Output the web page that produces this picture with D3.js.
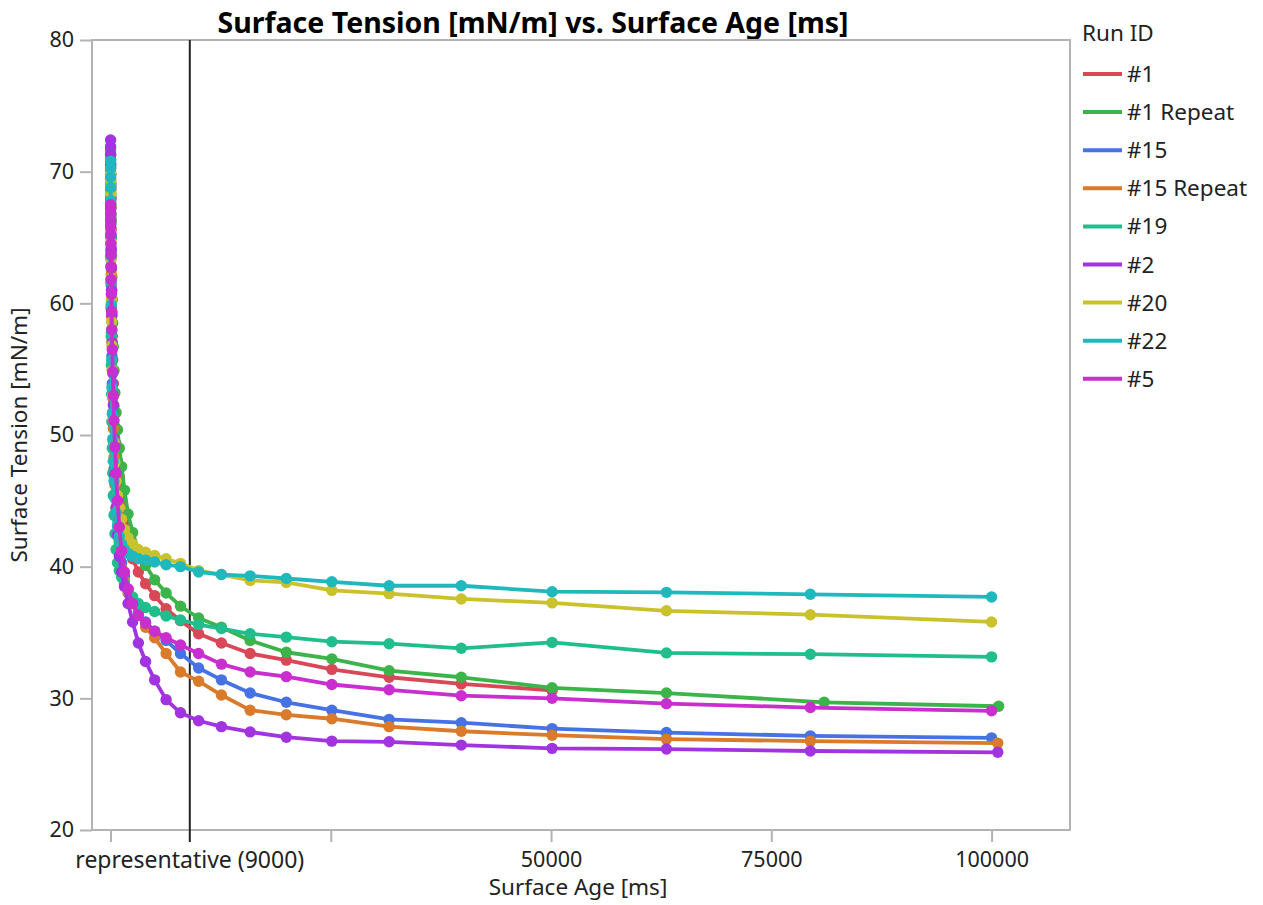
<!DOCTYPE html>
<html>
<head>
<meta charset="utf-8">
<script src="https://cdn.jsdelivr.net/npm/d3@7"></script>
<style>
  html, body { margin: 0; padding: 0; background: #fff; }
  svg { display: block; font-family: "Noto Sans", "Open Sans", sans-serif; }
</style>
</head>
<body>
<svg id="chart" width="1263" height="905"></svg>
<script>
// Surface age of each bubble-pressure reading [ms], 10 steps per decade
const ages = [10, 12.6, 15.8, 20, 25.1, 31.6, 39.8, 50.1, 63.1, 79.4,
  100, 126, 158, 200, 251, 316, 398, 501, 631, 794,
  1000, 1259, 1585, 1995, 2512, 3162, 3981, 5012, 6310, 7943,
  10000, 12589, 15849, 19953, 25119, 31623, 39811, 50119, 63096, 79433, 100000];
// Runs whose last readings were taken at slightly longer ages
const agesRepeat1 = ages.slice(0, 39).concat([81000, 100800]);
const agesLongEnd = ages.slice(0, 40).concat([100700]);

const runIds = ["#1", "#1 Repeat", "#15", "#15 Repeat", "#19", "#2", "#20", "#22", "#5"];

// Surface tension readings [mN/m]
const run1 = [70.5, 70.2, 69.8, 69.3, 68.7, 68.0, 67.2, 66.3, 65.2, 64.0,
  62.6, 61.0, 59.3, 57.5, 55.7, 53.9, 52.2, 50.6, 49.3, 48.0,
  46.8, 45.0, 43.4, 42.0, 40.6, 39.6, 38.7, 37.8, 36.8, 35.9,
  34.9, 34.2, 33.4, 32.9, 32.2, 31.6, 31.1, 30.6];
const run1Repeat = [71.8, 71.6, 71.3, 70.9, 70.4, 69.8, 69.1, 68.3, 67.3, 66.2,
  65.0, 63.6, 62.0, 60.3, 58.5, 56.7, 54.9, 53.2, 51.7, 50.4,
  49.0, 47.6, 45.8, 44.0, 42.6, 41.2, 40.1, 39.0, 38.0, 37.0,
  36.1, 35.4, 34.4, 33.5, 33.0, 32.1, 31.6, 30.8, 30.4, 29.7, 29.4];
const run15 = [69.0, 68.6, 68.1, 67.5, 66.8, 66.0, 65.1, 64.0, 62.8, 61.4,
  59.8, 58.0, 56.0, 53.9, 51.7, 49.5, 47.4, 45.5, 43.8, 42.6,
  41.5, 40.3, 39.3, 38.3, 37.3, 36.5, 35.8, 35.1, 34.4, 33.4,
  32.3, 31.4, 30.4, 29.7, 29.1, 28.4, 28.15, 27.7, 27.4, 27.15, 27.0];
const run15Repeat = [69.5, 69.1, 68.6, 68.0, 67.3, 66.5, 65.6, 64.6, 63.5, 62.2,
  60.7, 59.0, 57.1, 55.0, 52.8, 50.5, 48.3, 46.2, 44.3, 42.5,
  41.0, 39.9, 38.9, 38.0, 37.2, 36.3, 35.4, 34.6, 33.4, 32.0,
  31.3, 30.25, 29.1, 28.75, 28.45, 27.85, 27.5, 27.2, 26.9, 26.75, 26.6];
const run19 = [70.0, 69.4, 68.6, 67.6, 66.4, 65.0, 63.4, 61.6, 59.6, 57.5,
  55.3, 53.1, 51.0, 49.0, 47.1, 45.4, 43.9, 42.5, 41.3, 40.3,
  39.7, 39.2, 38.7, 38.2, 37.7, 37.2, 36.9, 36.6, 36.25, 35.95,
  35.6, 35.3, 34.9, 34.65, 34.3, 34.15, 33.8, 34.25, 33.45, 33.35, 33.15];
const run2 = [72.4, 71.9, 71.3, 70.6, 69.8, 68.9, 67.9, 66.8, 65.6, 64.2,
  62.7, 61.0, 59.1, 57.0, 54.7, 52.3, 49.7, 47.0, 44.5, 42.4,
  40.8, 39.6, 38.5, 37.2, 35.8, 34.2, 32.8, 31.4, 29.9, 28.9,
  28.3, 27.85, 27.45, 27.05, 26.75, 26.7, 26.45, 26.2, 26.15, 26.0, 25.9];
const run20 = [69.8, 69.4, 68.9, 68.3, 67.6, 66.7, 65.7, 64.6, 63.3, 61.9,
  60.3, 58.6, 56.8, 54.9, 53.0, 51.2, 49.5, 47.9, 46.5, 45.4,
  44.5, 43.6, 42.8, 42.2, 41.7, 41.3, 41.1, 40.85, 40.6, 40.25,
  39.7, 39.4, 38.95, 38.8, 38.2, 37.95, 37.55, 37.25, 36.65, 36.35, 35.8];
const run22 = [70.8, 70.3, 69.6, 68.8, 67.8, 66.6, 65.2, 63.6, 61.8, 59.9,
  57.8, 55.7, 53.6, 51.6, 49.7, 48.0, 46.5, 45.2, 44.1, 43.1,
  42.3, 41.7, 41.3, 41.0, 40.8, 40.6, 40.5, 40.35, 40.15, 40.0,
  39.6, 39.4, 39.3, 39.1, 38.85, 38.55, 38.55, 38.1, 38.05, 37.9, 37.7];
const run5 = [67.5, 67.2, 66.8, 66.3, 65.8, 65.2, 64.5, 63.7, 62.8, 61.8,
  60.7, 59.4, 58.0, 56.5, 54.8, 53.0, 51.1, 49.1, 47.1, 45.0,
  43.0, 41.2, 39.6, 38.3, 37.2, 36.3, 35.7, 35.1, 34.6, 34.05,
  33.4, 32.6, 32.0, 31.65, 31.05, 30.65, 30.2, 30.0, 29.6, 29.3, 29.05];

const runColors = ["#da4757", "#3cb44a", "#4672e3", "#d97b2a", "#22bd8c",
  "#a234e0", "#c9c22c", "#1fb8bd", "#c92ecf"];

const yTicks = [20, 30, 40, 50, 60, 70, 80];
const xTicks = [0, 25000, 50000, 75000, 100000];
const xTickLabels = ["", "", "50000", "75000", "100000"];
const refAge = 9000;
const refLabel = "representative (9000)";

const runs = [
  { id: runIds[0], ages: ages, values: run1 },
  { id: runIds[1], ages: agesRepeat1, values: run1Repeat },
  { id: runIds[2], ages: ages, values: run15 },
  { id: runIds[3], ages: agesLongEnd, values: run15Repeat },
  { id: runIds[4], ages: ages, values: run19 },
  { id: runIds[5], ages: agesLongEnd, values: run2 },
  { id: runIds[6], ages: ages, values: run20 },
  { id: runIds[7], ages: ages, values: run22 },
  { id: runIds[8], ages: ages, values: run5 }
].map((r, i) => ({
  id: r.id,
  color: runColors[i],
  points: r.values.map((v, j) => ({ age: r.ages[j], tension: v }))
}));

const svg = d3.select("#chart");
const plot = { left: 92, right: 1070, top: 40, bottom: 830 };

const x = d3.scaleLinear().domain([-2100, 108900]).range([plot.left, plot.right]);
const y = d3.scaleLinear().domain([20, 80]).range([plot.bottom, plot.top]);

const axisColor = "#b3b3b3";
const textColor = "#222";

// Title
svg.append("text")
  .attr("x", 533).attr("y", 33)
  .attr("text-anchor", "middle")
  .attr("font-size", 28.5).attr("font-weight", "bold")
  .attr("fill", "#000")
  .text("Surface Tension [mN/m] vs. Surface Age [ms]");

// Y axis
const yAxis = svg.append("g")
  .attr("transform", `translate(${plot.left},0)`)
  .call(d3.axisLeft(y).tickValues(yTicks).tickSize(12).tickPadding(6));
yAxis.selectAll("text").attr("font-size", 21.5).attr("fill", textColor)
  .attr("font-family", "Noto Sans, sans-serif");

// X axis
const xAxis = svg.append("g")
  .attr("transform", `translate(0,${plot.bottom})`)
  .call(d3.axisBottom(x).tickValues(xTicks).tickSize(12).tickPadding(10)
    .tickFormat((d, i) => xTickLabels[i]));
xAxis.selectAll("text").attr("font-size", 21.5).attr("fill", textColor)
  .attr("font-family", "Noto Sans, sans-serif");

[yAxis, xAxis].forEach(g => {
  g.selectAll("line").attr("stroke", axisColor).attr("stroke-width", 2);
  g.select(".domain").remove();
});

// Plot frame
svg.append("rect")
  .attr("x", plot.left).attr("y", plot.top)
  .attr("width", plot.right - plot.left).attr("height", plot.bottom - plot.top)
  .attr("fill", "none").attr("stroke", axisColor).attr("stroke-width", 2);

// Reference age line and its label
svg.append("line")
  .attr("x1", x(refAge)).attr("x2", x(refAge))
  .attr("y1", plot.top).attr("y2", plot.bottom + 12)
  .attr("stroke", "#222").attr("stroke-width", 2);
svg.append("text")
  .attr("x", x(refAge)).attr("y", plot.bottom + 38)
  .attr("text-anchor", "middle").attr("font-size", 23).attr("fill", textColor)
  .text(refLabel);

// Axis titles
svg.append("text")
  .attr("x", 578).attr("y", 895)
  .attr("text-anchor", "middle").attr("font-size", 22.5).attr("fill", textColor)
  .text("Surface Age [ms]");
svg.append("text")
  .attr("transform", `translate(27,${(plot.top + plot.bottom) / 2}) rotate(-90)`)
  .attr("text-anchor", "middle").attr("font-size", 22.5).attr("fill", textColor)
  .text("Surface Tension [mN/m]");

// Runs: line with a dot at every reading
const line = d3.line().x(d => x(d.age)).y(d => y(d.tension));
const runG = svg.append("g");
runs.forEach(r => {
  const g = runG.append("g");
  g.append("path")
    .attr("d", line(r.points))
    .attr("fill", "none").attr("stroke", r.color)
    .attr("stroke-width", 3.8).attr("stroke-linejoin", "round");
  g.selectAll("circle").data(r.points).join("circle")
    .attr("cx", d => x(d.age)).attr("cy", d => y(d.tension))
    .attr("r", 5.7).attr("fill", r.color);
});

// Legend
const legend = svg.append("g").attr("transform", "translate(1082,0)");
legend.append("text").attr("x", 0).attr("y", 41)
  .attr("font-size", 22.5).attr("fill", textColor).text("Run ID");
runs.forEach((r, i) => {
  const cy = 74 + i * 38.1;
  legend.append("line")
    .attr("x1", 1).attr("x2", 40).attr("y1", cy).attr("y2", cy)
    .attr("stroke", r.color).attr("stroke-width", 4);
  legend.append("text")
    .attr("x", 45).attr("y", cy + 8)
    .attr("font-size", 22.5).attr("fill", textColor).text(r.id);
});
</script>
</body>
</html>
